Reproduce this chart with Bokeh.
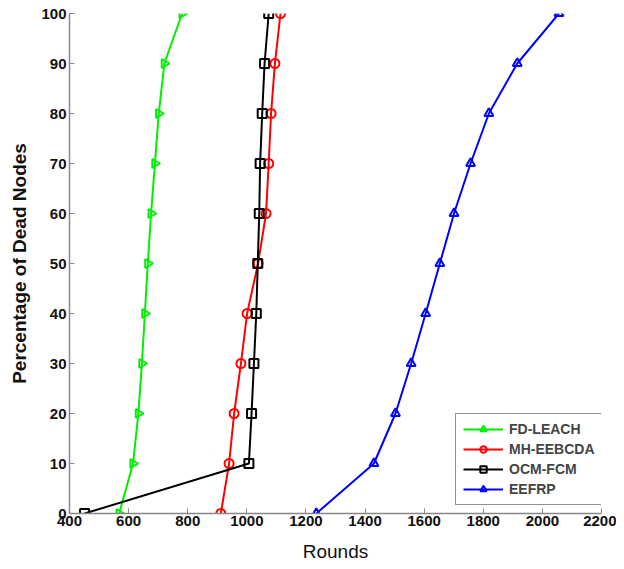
import math
from bokeh.plotting import figure
from bokeh.models import Legend, LegendItem, Range1d, FixedTicker
from bokeh.embed import file_html
from bokeh.resources import INLINE

pct = [0, 10, 20, 30, 40, 50, 60, 70, 80, 90, 100]
fd_leach = [568, 615, 633, 645, 655, 665, 676, 689, 702, 721, 781]
mh_eebcda = [912, 940, 957, 980, 1001, 1038, 1065, 1074, 1082, 1095, 1114]
ocm_fcm = [451, 1007, 1016, 1024, 1032, 1037, 1042, 1045, 1052, 1060, 1074]
eefrp = [1235, 1430, 1503, 1556, 1605, 1653, 1701, 1757, 1819, 1915, 2056]

x_ticks = [400, 600, 800, 1000, 1200, 1400, 1600, 1800, 2000, 2200]
y_ticks = [0, 10, 20, 30, 40, 50, 60, 70, 80, 90, 100]

p = figure(width=616, height=564, output_backend="svg", toolbar_location=None,
           x_range=Range1d(400, 2200), y_range=Range1d(0, 100),
           min_border_left=69, min_border_right=15, min_border_top=13, min_border_bottom=48)
p.outline_line_color = None
p.grid.visible = False
p.background_fill_color = "white"

for ax in (p.xaxis[0], p.yaxis[0]):
    ax.axis_line_color = "#888888"
    ax.axis_line_width = 1.5
    ax.major_tick_in = 5
    ax.major_tick_out = 0
    ax.major_tick_line_color = "#888888"
    ax.minor_tick_line_color = None
    ax.major_label_text_font = "Liberation Sans"
    ax.major_label_text_font_style = "bold"
    ax.major_label_text_font_size = "15px"
    ax.major_label_text_color = "#111111"
    ax.axis_label_text_font = "Liberation Sans"
    ax.axis_label_text_font_size = "19px"
    ax.axis_label_text_font_style = "normal"
    ax.axis_label_text_color = "#111111"

p.xaxis.ticker = FixedTicker(ticks=x_ticks)
p.yaxis.ticker = FixedTicker(ticks=y_ticks)
p.xaxis.axis_label = "Rounds"
p.yaxis.axis_label = "Percentage of Dead Nodes"
p.yaxis.axis_label_text_font_style = "bold"
p.xaxis.axis_label_standoff = 12
p.yaxis.axis_label_standoff = 8
p.xaxis.major_label_standoff = 2
p.yaxis.major_label_standoff = 3

series = [
    ("FD-LEACH", fd_leach, "#00ee00", "triangle", -math.pi / 2),
    ("MH-EEBCDA", mh_eebcda, "#ff0000", "circle", 0),
    ("OCM-FCM", ocm_fcm, "#000000", "square", 0),
    ("EEFRP", eefrp, "#0000ff", "triangle", 0),
]

items = []
for name, xs, color, marker, ang in series:
    ln = p.line(xs, pct, line_color=color, line_width=2)
    sc = p.scatter(xs, pct, marker=marker, size=9, angle=ang, line_color=color,
                   line_width=2, fill_color="white", fill_alpha=0.0)
    items.append(LegendItem(label=name, renderers=[ln, sc]))

legend = Legend(items=items, location=(386, 8), glyph_width=40, glyph_height=16,
                label_text_font="Liberation Sans", label_text_font_style="bold",
                label_text_font_size="14px", label_standoff=6, spacing=4,
                padding=7, border_line_color="#222222", border_line_width=1,
                label_height=16)
p.add_layout(legend, "center")

open("out.html", "w").write(file_html(p, INLINE))
